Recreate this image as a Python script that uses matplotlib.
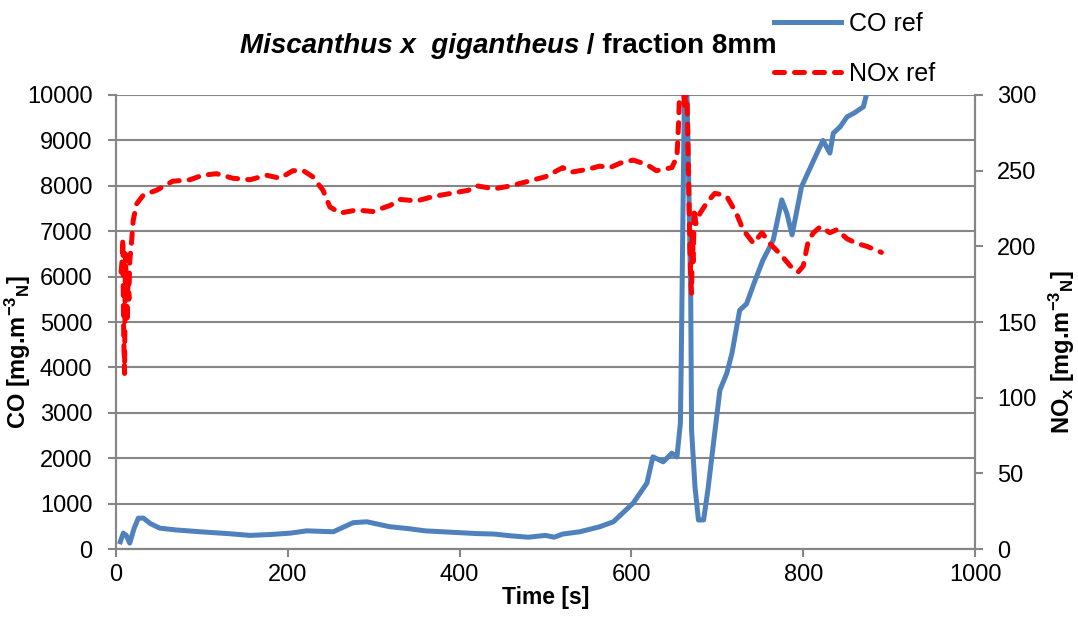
import numpy as np
import matplotlib
matplotlib.use('Agg')
import matplotlib.pyplot as plt

plt.rcParams['font.family'] = ['Liberation Sans', 'DejaVu Sans']
plt.rcParams['mathtext.fontset'] = 'custom'
plt.rcParams['mathtext.rm'] = 'Liberation Sans'
plt.rcParams['mathtext.bf'] = 'Liberation Sans:bold'
plt.rcParams['mathtext.it'] = 'Liberation Sans:italic'

# CO ref (levy osa)
co_t = [5, 8.5, 12, 16, 21, 26, 32, 40, 51, 70, 98, 130, 156, 180, 203, 222, 253, 276, 292,
        319, 340, 360, 380, 400, 420, 440, 460, 480, 500, 510, 520, 540, 563, 579, 602, 618,
        625, 637, 647, 653, 657, 658, 660, 662, 664, 666, 669, 670, 674, 678, 684, 689, 695,
        703, 711, 717, 726, 734, 744, 753, 765, 775, 781, 787, 792, 798, 816, 823, 831, 835,
        843, 851, 859, 870, 874, 880]
co_v = [160, 350, 300, 130, 450, 680, 680, 560, 460, 420, 380, 340, 300, 320, 350, 400, 380,
        580, 600, 490, 450, 400, 380, 360, 340, 330, 290, 260, 300, 260, 330, 380, 490, 600,
        1010, 1450, 2030, 1920, 2110, 2030, 2770, 4160, 7400, 10500, 10500, 8860, 5640, 2620,
        1370, 640, 640, 1300, 2250, 3500, 3870, 4310, 5260, 5400, 5920, 6360, 6800, 7690,
        7390, 6920, 7400, 7980, 8720, 9000, 8720, 9160, 9300, 9520, 9600, 9740, 10040, 10600]

# NOx ref (prava osa)
nox_t = [6, 7, 8, 8.5, 9, 10, 10.5, 11, 12, 13, 14, 15, 16, 18, 20, 24, 32, 47, 66, 86, 101,
         117, 136, 156, 175, 191, 206, 218, 229, 241, 249, 261, 280, 299, 319, 331, 350, 370,
         390, 410, 420, 440, 460, 480, 500, 520, 530, 550, 563, 575, 587, 602, 618, 629, 647,
         653, 655, 657, 659, 662, 664, 666, 667, 668, 669, 670, 671, 672, 673, 675, 680, 688,
         697, 707, 712, 722, 730, 742, 752, 761, 773, 785, 794, 800, 806, 812, 820, 831, 839,
         851, 862, 874, 891]
nox_v = [183, 190, 205, 170, 140, 116, 160, 195, 175, 150, 180, 165, 190, 202, 217, 228, 234,
         237, 243, 244, 247, 248, 245, 244, 247, 245, 250, 250, 246, 237, 226, 222, 224, 223,
         227, 231, 230, 233, 235, 237, 240, 238, 240, 243, 246, 252, 249, 251, 253, 252, 255,
         257, 254, 250, 252, 259, 283, 320, 320, 290, 320, 260, 230, 200, 180, 169, 210, 190,
         225, 215, 222, 229, 235, 234, 232, 222, 211, 202, 209, 202, 195, 187, 183, 187, 204,
         209, 213, 209, 211, 205, 202, 200, 196]

grid_col = '#868686'

fig = plt.figure(figsize=(10.78, 6.35), dpi=100)
ax = fig.add_axes([0.1076, 0.1354, 0.7969, 0.715])
ax2 = ax.twinx()

l1, = ax.plot(co_t, co_v, color='#4F81BD', lw=3.6, label='CO ref', zorder=3,
              solid_joinstyle='round')
l2, = ax2.plot(nox_t, nox_v, color='#FF0000', lw=3.6, label='NOx ref',
               dashes=(2.0, 2.0), dash_capstyle='round', zorder=3)

ax.set_xlim(0, 1000)
ax.set_ylim(0, 10000)
ax2.set_ylim(0, 300)
ax.set_xticks(np.arange(0, 1001, 200))
ax.set_yticks(np.arange(0, 10001, 1000))
ax2.set_yticks(np.arange(0, 301, 50))

ax.yaxis.grid(True, color=grid_col, lw=1.5)
ax.set_axisbelow(True)
for a in (ax, ax2):
    for s in a.spines.values():
        s.set_color(grid_col)
        s.set_linewidth(1.5)
    a.spines['top'].set_visible(False)
    a.tick_params(colors=grid_col, width=1.5, length=6, labelsize=17, labelcolor='black')
ax.tick_params(axis='y', pad=11)
ax2.tick_params(axis='y', pad=10)
ax.tick_params(axis='x', pad=5)

ax.set_xlabel('Time [s]', fontsize=16.5, fontweight='bold', labelpad=0)
ax.set_ylabel(r'CO [mg.m$^{\mathbf{-3}}$$_{\mathbf{N}}$]', fontsize=17, fontweight='bold')
ax2.set_ylabel(r'NO$_{\mathbf{x}}$ [mg.m$^{\mathbf{-3}}$$_{\mathbf{N}}$]', fontsize=17,
               fontweight='bold', rotation=90)
ax.yaxis.set_label_coords(-0.097, 0.434)
ax2.yaxis.set_label_coords(1.084, 0.434)

fig.text(0.537, 0.928, 'Miscanthus x  gigantheus', fontsize=20, fontweight='bold',
         style='italic', ha='right', va='center')
fig.text(0.537, 0.928, ' / fraction 8mm', fontsize=20, fontweight='bold', ha='left', va='center')

fig.legend(handles=[l1, l2], loc='upper left', bbox_to_anchor=(0.704, 1.005), frameon=False,
           fontsize=18, handlelength=2.7, labelspacing=1.05, borderpad=0.1, handletextpad=0.3)

fig.savefig('out.png', dpi=100)
